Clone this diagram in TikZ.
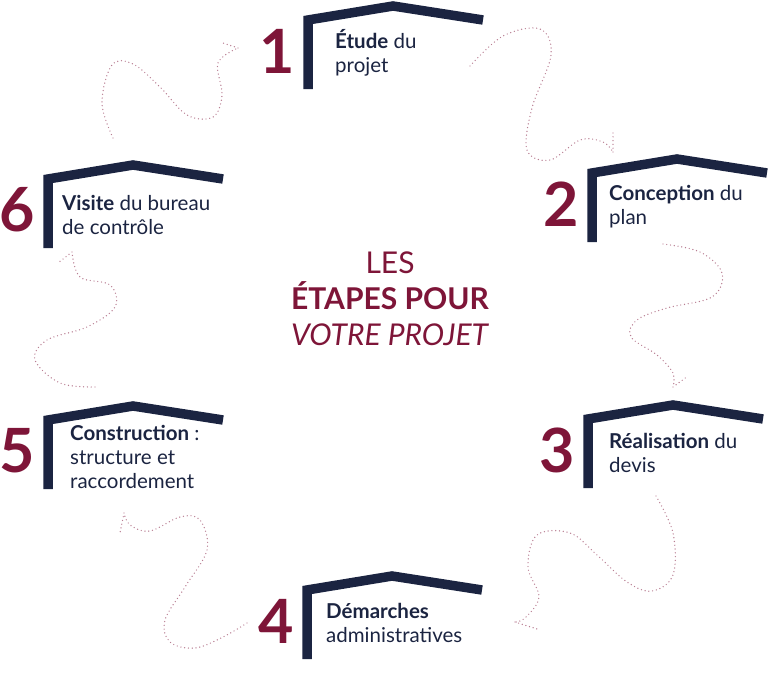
\documentclass[tikz,border=0pt]{standalone}
\usepackage{fontspec}
\setmainfont{Lato}
\definecolor{navy}{HTML}{1B2441}
\definecolor{wine}{HTML}{7E1538}
\tikzset{
  roof/.style={draw=navy, line width=9.5pt, line join=miter},
  stepnum/.style={font=\fontsize{61}{61}\selectfont\bfseries, text=wine, inner sep=0pt, anchor=east},
  steptext/.style={font=\fontsize{20.5}{24}\selectfont, text=navy, align=left, inner sep=0pt, anchor=base west},
  conn/.style={draw=wine!55, line width=1.4pt, line cap=round, dash pattern=on 0pt off 3.8pt},
}
\begin{document}
\begin{tikzpicture}[x=1pt, y=-1pt]
\useasboundingbox (0,0) rectangle (768,677);

% Roofs and numbers
\foreach \i/\x/\y in {1/303/15, 2/587/168, 3/583/414, 4/302/585, 5/43/415, 6/43/174}{
  \draw[roof] (\x+5,\y+74) -- (\x+5,\y+5) -- (\x+90,\y-9) -- (\x+180,\y+5);
  \node[stepnum] (n\i) at (\x-8,\y+36) {\i};
}

% Step texts (anchored on the last line)
\node[steptext] (t1) at (335,72) {\textbf{Étude} du\\projet};
\node[steptext] (t2) at (609,224) {\textbf{Conception} du\\plan};
\node[steptext] (t3) at (609,472) {\textbf{Réalisation} du\\devis};
\node[steptext] (t4) at (326,642) {\textbf{Démarches}\\administratives};
\node[steptext] (t5) at (70,488) {\textbf{Construction} :\\structure et\\raccordement};
\node[steptext] (t6) at (62,234) {\textbf{Visite} du bureau\\de contrôle};

% Title
\node[font=\fontsize{30}{36}\selectfont, text=wine, align=center, inner sep=0pt, anchor=base] (title) at (390,345)
  {LES\\\textbf{ÉTAPES POUR}\\\textit{VOTRE PROJET}};

% Connectors
\coordinate (s12) at (470,66);  \coordinate (e12) at (613,152);
\coordinate (s23) at (663,244); \coordinate (e23) at (673,387);
\coordinate (s34) at (656,496); \coordinate (e34) at (515,622);
\coordinate (s45) at (247,623); \coordinate (e45) at (124,513);
\coordinate (s56) at (95,387);  \coordinate (e56) at (72,252);
\coordinate (s61) at (113,138); \coordinate (e61) at (238,48);

\draw[conn] plot[smooth, tension=0.6] coordinates {(s12) (503,36) (540,29) (551,55) (532,108) (527,150) (550,160) (580,140) (603,142) (e12)};
\draw[conn] (e12) -- ++(0,-22);

\draw[conn] plot[smooth, tension=0.6] coordinates {(s23) (700,252) (722,273) (712,297) (667,308) (637,320) (631,337) (657,355) (673,373) (e23)};
\draw[conn] (e23) -- ++(15,-11);

\draw[conn] plot[smooth, tension=0.6] coordinates {(s34) (673,533) (673,575) (652,591) (627,582) (597,555) (570,533) (537,535) (528,567) (539,597) (525,618) (e34)};
\draw[conn] (e34) -- ++(22,7);

\draw[conn] plot[smooth, tension=0.6] coordinates {(s45) (223,637) (195,648) (170,642) (165,620) (185,587) (207,550) (200,520) (180,517) (150,531) (130,525) (e45)};
\draw[conn] (e45) -- ++(-4,20);

\draw[conn] plot[smooth, tension=0.6] coordinates {(s56) (60,383) (35,360) (47,340) (87,327) (115,307) (110,285) (80,277) (e56)};
\draw[conn] (e56) -- ++(-14,11);

\draw[conn] plot[smooth, tension=0.6] coordinates {(s61) (102,103) (112,65) (133,64) (160,87) (187,115) (213,117) (222,95) (218,63) (e61)};
\draw[conn] (e61) -- ++(-18,-6);

\end{tikzpicture}
\end{document}
